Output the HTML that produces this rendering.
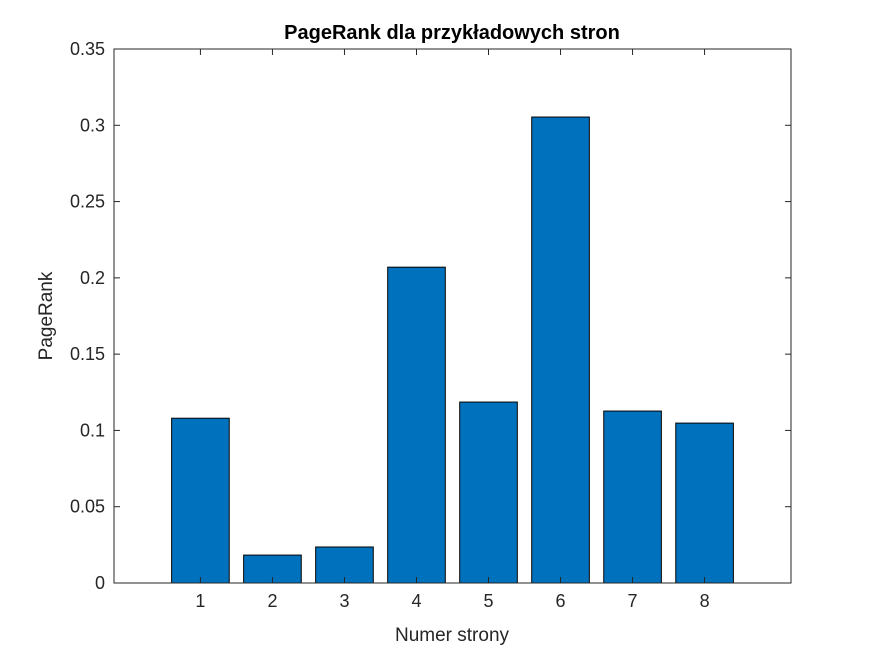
<!DOCTYPE html>
<html><head><meta charset="utf-8"><style>
body{margin:0;background:#fff;}
svg{display:block;font-family:"Liberation Sans",Arial,sans-serif;}
</style></head><body>
<svg id="chart" width="875" height="656">
<rect x="0" y="0" width="875" height="656" fill="#fff"/>
<text x="452" y="39" text-anchor="middle" font-size="20" font-weight="bold" fill="#000">PageRank dla przykładowych stron</text>
<text x="452" y="641" text-anchor="middle" font-size="19" fill="#262626">Numer strony</text>
<text transform="translate(52,316) rotate(-90)" text-anchor="middle" font-size="19" fill="#262626">PageRank</text>
<g id="bars"></g>
<g id="axes"></g>
</svg>
<script>
const categories = [1,2,3,4,5,6,7,8];
const values = [0.108,0.0183,0.0236,0.207,0.1186,0.3054,0.1127,0.1048];
const yTicks = [0,0.05,0.1,0.15,0.2,0.25,0.3,0.35];
const yTickLabels = ["0","0.05","0.1","0.15","0.2","0.25","0.3","0.35"];

const L=114,R=791,T=49,B=583;
const xMin=-0.2,xMax=9.2,yMin=0,yMax=0.35;
const xs=v=>L+(v-xMin)/(xMax-xMin)*(R-L);
const ys=v=>B-(v-yMin)/(yMax-yMin)*(B-T);
const NS="http://www.w3.org/2000/svg";
const bars=document.getElementById('bars'), axes=document.getElementById('axes');
function mk(tag,attrs,parent){const e=document.createElementNS(NS,tag);for(const k in attrs)e.setAttribute(k,attrs[k]);parent.appendChild(e);return e;}
const bw=0.8*(R-L)/(xMax-xMin);
categories.forEach((c,i)=>{
  const r=mk('rect',{x:xs(c)-bw/2,y:ys(values[i]),width:bw,height:ys(0)-ys(values[i]),fill:'#0072bd',stroke:'#000','stroke-width':1},bars);
  
  
});
const box=mk('rect',{x:L,y:T,width:R-L,height:B-T,fill:'none',stroke:'#262626','stroke-width':1},axes);


yTicks.forEach((t,i)=>{
  const y=ys(t);
  mk('line',{x1:L,x2:L+6,y1:y,y2:y,stroke:'#262626'},axes);
  mk('line',{x1:R,x2:R-6,y1:y,y2:y,stroke:'#262626'},axes);
  const tx=mk('text',{x:L-9,y:y+6,'text-anchor':'end','font-size':18,fill:'#262626'},axes);
  tx.textContent=yTickLabels[i];
  
  
});
categories.forEach(c=>{
  const x=xs(c);
  mk('line',{x1:x,x2:x,y1:B,y2:B-6,stroke:'#262626'},axes);
  mk('line',{x1:x,x2:x,y1:T,y2:T+6,stroke:'#262626'},axes);
  const tx=mk('text',{x:x,y:B+24,'text-anchor':'middle','font-size':18,fill:'#262626'},axes);
  tx.textContent=String(c);
  
  
});
</script>
</body></html>
